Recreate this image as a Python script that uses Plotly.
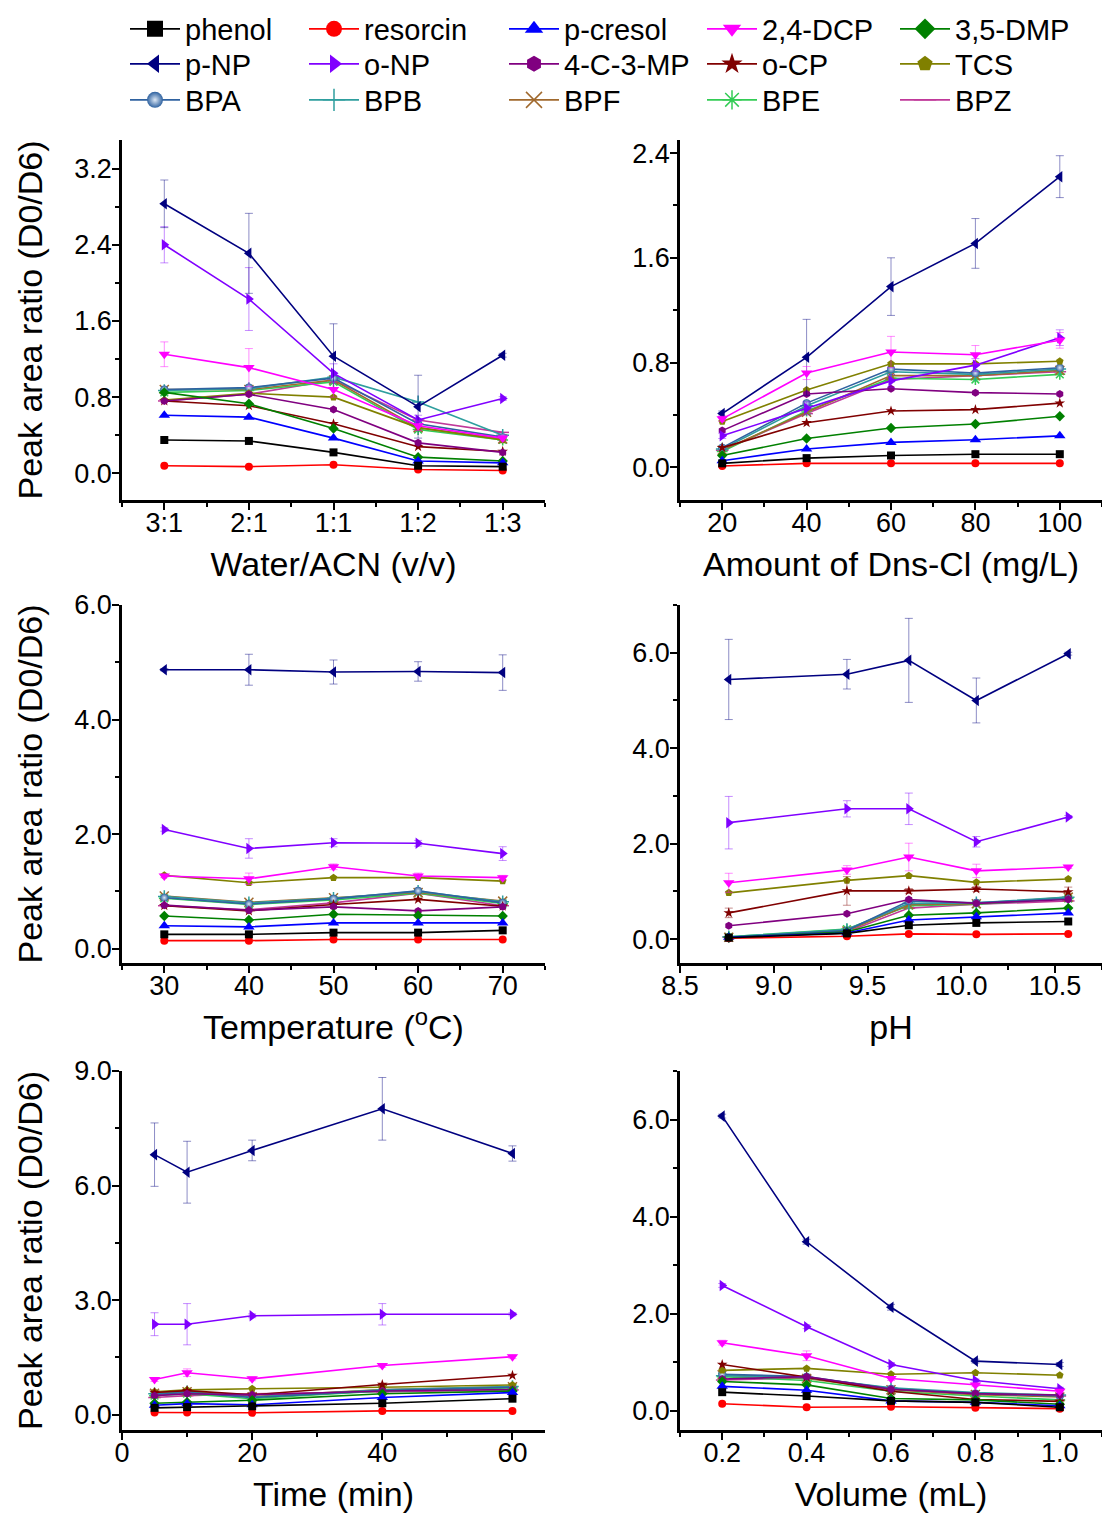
import plotly.graph_objects as go

W, H = 1102, 1517

compounds = ["phenol", "resorcin", "p-cresol", "2,4-DCP", "3,5-DMP",
             "p-NP", "o-NP", "4-C-3-MP", "o-CP", "TCS",
             "BPA", "BPB", "BPF", "BPE", "BPZ"]
colors = ["#000000", "#FF0000", "#0000FF", "#FF00FF", "#008000",
          "#000080", "#8000FF", "#800080", "#800000", "#808000",
          "#2F62A0", "#2E9E9E", "#A0692D", "#33CC55", "#C0399A"]
symbols = ["square", "circle", "triangle-up", "triangle-down", "diamond",
           "triangle-left", "triangle-right", "hexagon", "star", "pentagon",
           "circle", "cross-thin-open", "x-thin-open", "asterisk-open", "line-ew-open"]

# ---- Panel 1: Water/ACN ratio ----
ratio_labels = ["3:1", "2:1", "1:1", "1:2", "1:3"]
acn_vals = {
    "phenol":   [0.35, 0.34, 0.22, 0.08, 0.07],
    "resorcin": [0.08, 0.07, 0.09, 0.04, 0.03],
    "p-cresol": [0.61, 0.59, 0.37, 0.13, 0.11],
    "2,4-DCP":  [1.25, 1.11, 0.88, 0.50, 0.37],
    "3,5-DMP":  [0.85, 0.73, 0.47, 0.17, 0.13],
    "p-NP":     [2.83, 2.31, 1.23, 0.70, 1.24],
    "o-NP":     [2.40, 1.83, 1.05, 0.56, 0.785],
    "4-C-3-MP": [0.76, 0.83, 0.67, 0.32, 0.22],
    "o-CP":     [0.76, 0.71, 0.52, 0.28, 0.23],
    "TCS":      [0.77, 0.84, 0.80, 0.48, 0.35],
    "BPA":      [0.88, 0.90, 1.00, 0.52, 0.38],
    "BPB":      [0.87, 0.89, 1.01, 0.75, 0.40],
    "BPF":      [0.88, 0.88, 0.98, 0.48, 0.36],
    "BPE":      [0.85, 0.87, 0.96, 0.46, 0.35],
    "BPZ":      [0.76, 0.83, 0.98, 0.56, 0.43],
}
acn_err = {
    "p-NP":    [0.25, 0.42, 0.34, 0.33, 0.02],
    "o-NP":    [0.19, 0.33, 0.10, 0.05, 0.02],
    "2,4-DCP": [0.13, 0.20, 0.08, 0.05, 0.03],
}

# ---- Panel 2: Amount of Dns-Cl ----
dns_x = [20, 40, 60, 80, 100]
dns_vals = {
    "phenol":   [0.03, 0.07, 0.09, 0.10, 0.10],
    "resorcin": [0.01, 0.03, 0.03, 0.03, 0.03],
    "p-cresol": [0.05, 0.14, 0.19, 0.21, 0.24],
    "2,4-DCP":  [0.37, 0.72, 0.88, 0.86, 0.97],
    "3,5-DMP":  [0.09, 0.22, 0.30, 0.33, 0.39],
    "p-NP":     [0.41, 0.84, 1.38, 1.71, 2.22],
    "o-NP":     [0.24, 0.45, 0.66, 0.78, 0.99],
    "4-C-3-MP": [0.28, 0.56, 0.60, 0.57, 0.56],
    "o-CP":     [0.15, 0.34, 0.43, 0.44, 0.49],
    "TCS":      [0.35, 0.59, 0.79, 0.79, 0.81],
    "BPA":      [0.15, 0.49, 0.75, 0.72, 0.76],
    "BPB":      [0.14, 0.47, 0.73, 0.71, 0.75],
    "BPF":      [0.13, 0.42, 0.70, 0.70, 0.74],
    "BPE":      [0.12, 0.43, 0.68, 0.67, 0.71],
    "BPZ":      [0.13, 0.41, 0.67, 0.70, 0.73],
}
dns_err = {
    "p-NP":    [0.02, 0.29, 0.22, 0.19, 0.16],
    "o-NP":    [0.02, 0.05, 0.05, 0.05, 0.06],
    "2,4-DCP": [0.02, 0.05, 0.12, 0.07, 0.06],
}

# ---- Panel 3: Temperature ----
temp_x = [30, 40, 50, 60, 70]
temp_vals = {
    "phenol":   [0.25, 0.25, 0.28, 0.28, 0.32],
    "resorcin": [0.14, 0.14, 0.16, 0.16, 0.16],
    "p-cresol": [0.40, 0.38, 0.45, 0.45, 0.45],
    "2,4-DCP":  [1.27, 1.22, 1.43, 1.27, 1.24],
    "3,5-DMP":  [0.57, 0.50, 0.60, 0.58, 0.57],
    "p-NP":     [4.87, 4.87, 4.83, 4.84, 4.82],
    "o-NP":     [2.08, 1.75, 1.85, 1.84, 1.66],
    "4-C-3-MP": [0.76, 0.67, 0.73, 0.66, 0.73],
    "o-CP":     [0.75, 0.66, 0.77, 0.86, 0.74],
    "TCS":      [1.28, 1.15, 1.24, 1.24, 1.18],
    "BPA":      [0.89, 0.78, 0.87, 1.01, 0.80],
    "BPB":      [0.91, 0.80, 0.88, 1.00, 0.82],
    "BPF":      [0.92, 0.81, 0.89, 0.98, 0.83],
    "BPE":      [0.88, 0.77, 0.85, 0.97, 0.79],
    "BPZ":      [0.75, 0.68, 0.80, 0.97, 0.75],
}
temp_err = {
    "p-NP":    [0.02, 0.27, 0.21, 0.17, 0.31],
    "o-NP":    [0.03, 0.17, 0.07, 0.05, 0.12],
    "2,4-DCP": [0.03, 0.10, 0.05, 0.05, 0.04],
}

# ---- Panel 4: pH ----
ph_x = [8.76, 9.39, 9.72, 10.08, 10.57]
ph_vals = {
    "phenol":   [0.03, 0.12, 0.29, 0.34, 0.37],
    "resorcin": [0.02, 0.06, 0.11, 0.10, 0.11],
    "p-cresol": [0.04, 0.13, 0.40, 0.47, 0.55],
    "2,4-DCP":  [1.18, 1.45, 1.72, 1.43, 1.51],
    "3,5-DMP":  [0.04, 0.15, 0.50, 0.55, 0.65],
    "p-NP":     [5.44, 5.55, 5.84, 5.00, 5.98],
    "o-NP":     [2.44, 2.73, 2.73, 2.04, 2.56],
    "4-C-3-MP": [0.28, 0.53, 0.83, 0.75, 0.83],
    "o-CP":     [0.55, 1.01, 1.01, 1.05, 0.99],
    "TCS":      [0.97, 1.23, 1.33, 1.19, 1.26],
    "BPA":      [0.04, 0.18, 0.80, 0.76, 0.85],
    "BPB":      [0.05, 0.20, 0.75, 0.76, 0.88],
    "BPF":      [0.04, 0.17, 0.72, 0.74, 0.88],
    "BPE":      [0.05, 0.21, 0.70, 0.73, 0.85],
    "BPZ":      [0.04, 0.15, 0.65, 0.73, 0.80],
}
ph_err = {
    "p-NP":    [0.84, 0.31, 0.88, 0.47, 0.03],
    "o-NP":    [0.55, 0.17, 0.33, 0.11, 0.03],
    "2,4-DCP": [0.20, 0.09, 0.29, 0.14, 0.03],
    "o-CP":    [0.10, 0.30, 0.05, 0.05, 0.10],
}

# ---- Panel 5: Time ----
time_x = [5, 10, 20, 40, 60]
time_vals = {
    "phenol":   [0.18, 0.20, 0.22, 0.30, 0.42],
    "resorcin": [0.06, 0.06, 0.05, 0.10, 0.10],
    "p-cresol": [0.25, 0.29, 0.26, 0.45, 0.58],
    "2,4-DCP":  [0.92, 1.10, 0.94, 1.29, 1.52],
    "3,5-DMP":  [0.30, 0.33, 0.38, 0.55, 0.62],
    "p-NP":     [6.81, 6.35, 6.92, 8.01, 6.84],
    "o-NP":     [2.37, 2.37, 2.59, 2.63, 2.63],
    "4-C-3-MP": [0.50, 0.55, 0.52, 0.62, 0.66],
    "o-CP":     [0.58, 0.63, 0.52, 0.79, 1.03],
    "TCS":      [0.60, 0.65, 0.68, 0.72, 0.78],
    "BPA":      [0.53, 0.58, 0.45, 0.63, 0.72],
    "BPB":      [0.55, 0.60, 0.46, 0.65, 0.74],
    "BPF":      [0.56, 0.60, 0.47, 0.66, 0.73],
    "BPE":      [0.50, 0.55, 0.42, 0.62, 0.70],
    "BPZ":      [0.45, 0.50, 0.55, 0.60, 0.65],
}
time_err = {
    "p-NP":    [0.83, 0.81, 0.27, 0.82, 0.20],
    "o-NP":    [0.30, 0.54, 0.05, 0.28, 0.04],
    "2,4-DCP": [0.05, 0.10, 0.05, 0.05, 0.05],
}

# ---- Panel 6: Volume ----
vol_x = [0.2, 0.4, 0.6, 0.8, 1.0]
vol_vals = {
    "phenol":   [0.38, 0.30, 0.20, 0.17, 0.07],
    "resorcin": [0.14, 0.07, 0.08, 0.06, 0.04],
    "p-cresol": [0.50, 0.42, 0.20, 0.17, 0.10],
    "2,4-DCP":  [1.40, 1.13, 0.66, 0.53, 0.40],
    "3,5-DMP":  [0.60, 0.53, 0.25, 0.22, 0.13],
    "p-NP":     [6.07, 3.48, 2.13, 1.02, 0.95],
    "o-NP":     [2.58, 1.73, 0.95, 0.62, 0.45],
    "4-C-3-MP": [0.65, 0.70, 0.44, 0.35, 0.32],
    "o-CP":     [0.95, 0.69, 0.40, 0.23, 0.19],
    "TCS":      [0.83, 0.87, 0.75, 0.78, 0.73],
    "BPA":      [0.75, 0.70, 0.45, 0.35, 0.30],
    "BPB":      [0.72, 0.68, 0.47, 0.37, 0.32],
    "BPF":      [0.74, 0.66, 0.43, 0.33, 0.28],
    "BPE":      [0.70, 0.62, 0.40, 0.30, 0.22],
    "BPZ":      [0.63, 0.68, 0.46, 0.35, 0.30],
}
vol_err = {
    "p-NP":    [0.04, 0.05, 0.06, 0.04, 0.04],
    "o-NP":    [0.04, 0.04, 0.04, 0.03, 0.03],
    "2,4-DCP": [0.05, 0.10, 0.04, 0.03, 0.03],
}

# ---- layout geometry (pixels) ----
cols = [(122, 545), (680, 1102)]
rows = [(140, 500), (605, 963), (1071, 1430)]
legend_cols = [128, 307, 507, 705, 898]
legend_rows = [29, 64, 100]

def xd(c):
    a, b = cols[c]
    return [a / W, min(b / W, 1.0)]

def yd(r):
    a, b = rows[r]
    return [1 - b / H, 1 - a / H]

FONT = "Liberation Sans, Arial, sans-serif"

def rgba(hexc, a):
    h = hexc.lstrip("#")
    return "rgba(%d,%d,%d,%.2f)" % (int(h[0:2], 16), int(h[2:4], 16), int(h[4:6], 16), a)

def marker_for(i, size_scale=1.0):
    sym = symbols[i]
    col = colors[i]
    openish = sym.endswith("-open")
    base = 10 if sym.startswith("triangle") else (9 if openish else 8)
    m = dict(symbol=sym, size=base * size_scale, color=col,
             line=dict(width=1.5 if openish else 0, color=col))
    if compounds[i] == "BPA":
        m["gradient"] = dict(type="radial", color="#DDE8F5")
    return m

fig = go.Figure()

panels = [
    (list(range(len(ratio_labels))), acn_vals, acn_err),
    (dns_x, dns_vals, dns_err),
    (temp_x, temp_vals, temp_err),
    (ph_x, ph_vals, ph_err),
    (time_x, time_vals, time_err),
    (vol_x, vol_vals, vol_err),
]

for p, (xs, vals, errs) in enumerate(panels):
    ax = "" if p == 0 else str(p + 1)
    for i in reversed(range(len(compounds))):
        name = compounds[i]
        col = colors[i]
        tr = dict(x=xs, y=vals[name], mode="lines+markers",
                  line=dict(color=col, width=1.6), marker=marker_for(i),
                  name=name, showlegend=False, xaxis="x" + ax, yaxis="y" + ax,
                  hoverinfo="skip")
        if name in errs:
            tr["error_y"] = dict(type="data", array=errs[name], visible=True,
                                 color=rgba(col, 0.45), thickness=1, width=4)
        fig.add_trace(go.Scatter(**tr))

# legend entries: one small legend per entry, placed in a 5 x 3 grid
legend_layouts = {}
for i, name in enumerate(compounds):
    lname = "legend" if i == 0 else "legend%d" % (i + 1)
    r, c = divmod(i, 5)
    fig.add_trace(go.Scatter(x=[None], y=[None], mode="lines+markers", name=name,
                             line=dict(color=colors[i], width=1.6),
                             marker=marker_for(i, 2.0),
                             xaxis="x", yaxis="y", showlegend=True, legend=lname))
    legend_layouts[lname] = dict(
        x=(legend_cols[c] - 3) / W, y=1 - legend_rows[r] / H,
        xanchor="left", yanchor="middle", orientation="v",
        font=dict(family=FONT, size=29, color="black"),
        itemwidth=50, bgcolor="rgba(0,0,0,0)", borderwidth=0)

def minor_cfg(dt, t0=0):
    return dict(ticks="outside", ticklen=4, tickwidth=2, tickcolor="black",
                dtick=dt, tick0=t0, showgrid=False)

def xaxis_cfg(c, r, title, **kw):
    d = dict(domain=xd(c), showline=True, linecolor="black", linewidth=2.5,
             mirror=False, ticks="outside", ticklen=7, tickwidth=2, tickcolor="black",
             showgrid=False, zeroline=False, ticklabelstandoff=-10,
             tickfont=dict(family=FONT, size=27, color="black"),
             title=dict(text=title, font=dict(family=FONT, size=34, color="black"), standoff=16))
    d.update(kw)
    return d

def yaxis_cfg(c, r, title, **kw):
    d = dict(domain=yd(r), showline=True, linecolor="black", linewidth=2.5,
             mirror=False, ticks="outside", ticklen=7, tickwidth=2, tickcolor="black",
             showgrid=False, zeroline=False, tickformat=".1f", ticklabelstandoff=-5,
             tickfont=dict(family=FONT, size=27, color="black"))
    if title:
        d["title"] = dict(text=title, font=dict(family=FONT, size=34, color="black"), standoff=22)
    d.update(kw)
    return d

ytitle = "Peak area ratio (D0/D6)"

fig.update_layout(
    width=W, height=H,
    margin=dict(l=0, r=0, t=0, b=0, autoexpand=False),
    paper_bgcolor="white", plot_bgcolor="white",
    font=dict(family=FONT, color="black"),
    showlegend=True,
    xaxis=xaxis_cfg(0, 0, "Water/ACN (v/v)", anchor="y", range=[-0.5, 4.5],
                    tickvals=list(range(len(ratio_labels))), ticktext=ratio_labels,
                    minor=minor_cfg(0.5, -0.5)),
    yaxis=yaxis_cfg(0, 0, ytitle, anchor="x", range=[-0.28, 3.5], dtick=0.8, tick0=0,
                    minor=minor_cfg(0.4)),
    xaxis2=xaxis_cfg(1, 0, "Amount of Dns-Cl (mg/L)", anchor="y2", range=[10, 110], dtick=20, tick0=0,
                     minor=minor_cfg(10)),
    yaxis2=yaxis_cfg(1, 0, "", anchor="x2", range=[-0.25, 2.5], dtick=0.8, tick0=0,
                     minor=minor_cfg(0.4)),
    xaxis3=xaxis_cfg(0, 1, "Temperature (<sup>o</sup>C)", anchor="y3", range=[25, 75], dtick=10, tick0=0,
                     minor=minor_cfg(5)),
    yaxis3=yaxis_cfg(0, 1, ytitle, anchor="x3", range=[-0.25, 6.0], dtick=2, tick0=0,
                     minor=minor_cfg(1)),
    xaxis4=xaxis_cfg(1, 1, "pH", anchor="y4", range=[8.5, 10.75], dtick=0.5, tick0=0, tickformat=".1f",
                     minor=minor_cfg(0.25)),
    yaxis4=yaxis_cfg(1, 1, "", anchor="x4", range=[-0.5, 7.0], dtick=2, tick0=0,
                     minor=minor_cfg(1)),
    xaxis5=xaxis_cfg(0, 2, "Time (min)", anchor="y5", range=[0, 65], dtick=20, tick0=0,
                     minor=minor_cfg(10)),
    yaxis5=yaxis_cfg(0, 2, ytitle, anchor="x5", range=[-0.4, 9.0], dtick=3, tick0=0,
                     minor=minor_cfg(1.5)),
    xaxis6=xaxis_cfg(1, 2, "Volume (mL)", anchor="y6", range=[0.1, 1.1], dtick=0.2, tick0=0, tickformat=".1f",
                     minor=minor_cfg(0.1)),
    yaxis6=yaxis_cfg(1, 2, "", anchor="x6", range=[-0.4, 7.0], dtick=2, tick0=0,
                     minor=minor_cfg(1)),
    **legend_layouts,
)

fig.write_html("out.html", config={"displayModeBar": False},
               post_script="document.body.style.margin='0px';")
